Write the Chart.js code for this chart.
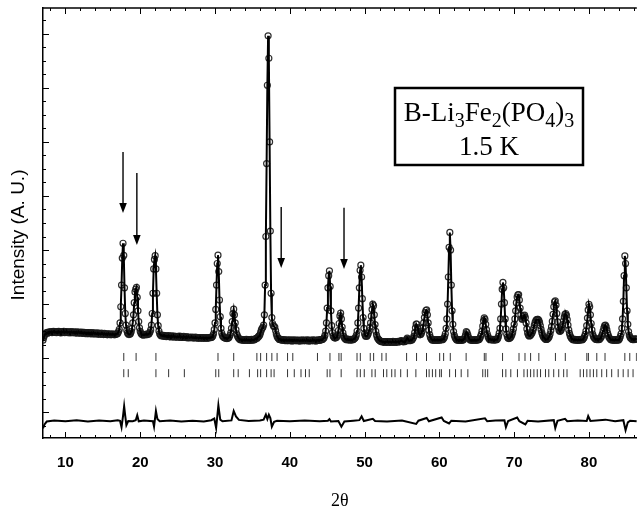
<!DOCTYPE html>
<html>
<head>
<meta charset="utf-8">
<script src="https://cdn.jsdelivr.net/npm/chart.js@4.4.1/dist/chart.umd.min.js"></script>
<style>
  html, body { margin: 0; padding: 0; background: #fff; }
  canvas { display: block; }
</style>
</head>
<body>
<canvas id="xrd" width="642" height="510"></canvas>
<script>
// observed / calculated profile, 2theta from 7.0 in 0.1 deg steps
const scanStart = 7.0;
const scanStep = 0.1;
const profile = [
  6.6, 7.6, 8.4, 8.9, 9.2, 9.4, 9.2, 9.6, 9.4, 9.7,        // 7
  9.5, 9.8, 9.4, 9.7, 9.9, 9.5, 9.8, 9.6, 9.4, 9.8,        // 8
  9.6, 9.9, 9.5, 9.7, 9.3, 9.8, 9.6, 9.5, 9.9, 9.4,        // 9
  9.7, 9.5, 9.8, 9.4, 9.6, 9.7, 9.3, 9.6, 9.8, 9.4,        // 10
  9.5, 9.7, 9.3, 9.6, 9.4, 9.7, 9.2, 9.5, 9.6, 9.3,        // 11
  9.5, 9.2, 9.6, 9.4, 9.1, 9.5, 9.3, 9.4, 9.0, 9.4,        // 12
  9.2, 9.4, 9.0, 9.3, 9.1, 9.4, 8.9, 9.2, 9.3, 9.0,        // 13
  9.2, 8.9, 9.1, 9.3, 8.8, 9.1, 9.0, 8.8, 9.2, 8.9,        // 14
  9.0, 8.7, 9.1, 8.9, 8.8, 9.0, 8.6, 8.9, 9.0, 8.7,        // 15
  8.9, 8.6, 8.8, 9.0, 8.7, 8.8, 8.6, 8.9, 8.8, 9.0,        // 16
  9.2, 9.8, 10.6, 13.0, 19.0, 27.0, 37.0, 42.5, 38.0, 26.0, // 17
  16.5, 12.2, 10.2, 9.3, 8.9, 8.7, 8.8, 9.1, 9.8, 11.0,    // 18
  13.0, 16.0, 20.5, 24.5, 25.5, 26.2, 22.5, 17.5, 13.5, 11.2, // 19
  9.9, 9.2, 8.8, 8.6, 8.5, 8.7, 8.6, 8.8, 8.6, 8.9,        // 20
  8.7, 8.8, 9.1, 9.6, 10.4, 12.2, 16.5, 24.0, 33.0, 36.5,  // 21
  37.9, 33.0, 24.0, 16.0, 12.0, 10.0, 9.0, 8.5, 8.3, 8.4,  // 22
  8.2, 8.4, 8.0, 8.3, 8.1, 7.9, 8.2, 8.0, 8.3, 7.9,        // 23
  8.1, 7.8, 8.2, 7.9, 8.0, 8.1, 7.7, 8.0, 7.9, 7.8,        // 24
  8.0, 7.7, 7.9, 8.1, 7.6, 7.9, 7.8, 7.6, 8.0, 7.7,        // 25
  7.8, 7.6, 7.9, 7.5, 7.7, 7.8, 7.5, 7.7, 7.6, 7.8,        // 26
  7.5, 7.7, 7.4, 7.6, 7.8, 7.4, 7.6, 7.5, 7.3, 7.6,        // 27
  7.4, 7.6, 7.3, 7.5, 7.6, 7.3, 7.5, 7.4, 7.6, 7.3,        // 28
  7.5, 7.4, 7.6, 7.5, 7.7, 7.6, 7.8, 8.2, 9.0, 10.5,       // 29
  13.0, 18.0, 27.0, 35.0, 38.1, 32.0, 21.5, 15.3, 11.0, 9.2, // 30
  8.3, 7.9, 7.6, 7.5, 7.3, 7.4, 7.2, 7.3, 7.4, 7.8,        // 31
  8.4, 9.3, 11.0, 13.5, 16.5, 18.1, 16.0, 13.0, 10.5, 9.0, // 32
  8.2, 7.6, 7.2, 7.0, 6.8, 6.9, 6.6, 6.8, 6.7, 6.5,        // 33
  6.8, 6.6, 6.9, 6.5, 6.7, 6.8, 6.5, 6.7, 6.6, 6.9,        // 34
  6.7, 6.6, 6.8, 6.9, 7.1, 7.3, 7.2, 7.6, 7.9, 8.2,        // 35
  8.6, 9.5, 10.4, 11.0, 11.4, 12.2, 16.0, 27.0, 45.0, 72.0, // 36
  101.0, 119.3, 111.0, 80.0, 47.0, 24.0, 15.0, 12.8, 12.0, 11.6, // 37
  11.5, 10.2, 8.9, 8.0, 7.5, 7.2, 6.9, 7.0, 6.7, 6.8,      // 38
  6.6, 6.8, 6.5, 6.7, 6.6, 6.4, 6.7, 6.5, 6.6, 6.4,        // 39
  6.7, 6.5, 6.6, 6.3, 6.6, 6.5, 6.7, 6.4, 6.5, 6.6,        // 40
  6.4, 6.6, 6.5, 6.3, 6.6, 6.4, 6.5, 6.7, 6.4, 6.5,        // 41
  6.6, 6.4, 6.5, 6.7, 6.4, 6.6, 6.3, 6.5, 6.6, 6.4,        // 42
  6.5, 6.7, 6.4, 6.6, 6.5, 6.3, 6.6, 6.5, 6.7, 6.5,        // 43
  6.6, 6.8, 6.7, 6.9, 7.0, 7.2, 7.6, 8.4, 10.0, 13.0,      // 44
  18.5, 26.0, 30.5, 32.3, 26.5, 17.5, 12.0, 9.4, 8.2, 7.7, // 45
  7.5, 7.4, 7.6, 7.9, 8.6, 10.2, 12.8, 15.6, 16.6, 14.5,   // 46
  11.5, 9.3, 8.1, 7.5, 7.1, 7.0, 6.8, 7.0, 6.7, 6.9,       // 47
  6.8, 6.6, 6.9, 6.7, 6.8, 6.9, 7.1, 7.3, 7.7, 8.5,        // 48
  10.0, 13.0, 18.5, 26.0, 32.5, 34.4, 30.0, 22.0, 15.0, 11.0, // 49
  9.0, 8.3, 8.0, 8.1, 8.5, 9.1, 10.1, 11.4, 13.0, 15.5,    // 50
  18.0, 20.0, 19.4, 16.0, 12.4, 9.9, 8.5, 7.6, 7.1, 6.8,   // 51
  6.5, 6.3, 6.1, 6.2, 5.9, 6.1, 6.0, 5.8, 6.1, 6.0,        // 52
  5.9, 6.1, 5.8, 6.0, 6.1, 5.9, 5.8, 6.0, 6.2, 5.9,        // 53
  6.0, 5.8, 6.1, 5.9, 6.0, 6.2, 5.9, 6.1, 6.3, 6.5,        // 54
  6.3, 6.1, 6.0, 6.2, 6.1, 6.4, 6.8, 7.4, 7.0, 6.6,        // 55
  6.4, 6.5, 6.7, 6.6, 7.0, 7.4, 8.1, 9.4, 11.2, 12.6,      // 56
  12.6, 11.3, 9.9, 9.0, 8.6, 8.7, 9.2, 10.0, 11.3, 13.0,   // 57
  15.0, 16.8, 17.6, 17.8, 16.0, 13.0, 10.3, 8.7, 7.7, 7.1, // 58
  6.8, 6.6, 6.7, 6.5, 6.8, 6.6, 6.7, 6.5, 6.8, 6.7,        // 59
  6.6, 6.8, 6.7, 6.9, 6.8, 7.0, 7.3, 7.9, 9.0, 11.0,       // 60
  14.5, 20.0, 30.0, 41.0, 46.5, 40.0, 27.0, 17.5, 12.5, 9.8, // 61
  8.4, 7.6, 7.1, 6.8, 6.6, 6.7, 6.5, 6.8, 6.6, 6.7,        // 62
  6.5, 6.8, 6.7, 7.1, 7.7, 8.6, 9.8, 9.4, 8.6, 7.7,        // 63
  7.1, 6.8, 6.6, 6.7, 6.5, 6.7, 6.6, 6.8, 6.5, 6.7,        // 64
  6.6, 6.8, 6.7, 6.9, 7.2, 7.9, 8.8, 10.0, 11.8, 13.8,     // 65
  14.9, 14.3, 12.5, 10.5, 9.0, 8.0, 7.3, 7.0, 6.8, 6.9,    // 66
  6.7, 6.9, 6.8, 6.6, 6.9, 6.7, 6.8, 6.9, 7.2, 8.0,        // 67
  9.2, 11.0, 14.5, 20.0, 25.5, 28.0, 26.0, 20.5, 14.5, 10.8, // 68
  8.8, 7.8, 7.3, 7.2, 7.3, 7.6, 8.0, 8.6, 9.5, 10.8,       // 69
  12.5, 14.5, 17.5, 20.5, 22.6, 23.4, 23.5, 21.5, 18.5, 16.0, // 70
  14.6, 14.3, 14.9, 15.6, 15.9, 15.0, 13.0, 10.8, 9.3, 8.5, // 71
  8.2, 8.3, 8.5, 8.9, 9.4, 10.1, 11.0, 12.2, 13.2, 13.9,   // 72
  14.2, 14.3, 14.3, 14.0, 13.2, 12.0, 10.6, 9.4, 8.5, 7.9, // 73
  7.5, 7.2, 7.0, 6.9, 7.0, 7.2, 7.5, 8.0, 8.9, 10.2,       // 74
  11.6, 13.6, 16.2, 19.0, 20.8, 21.2, 19.6, 16.5, 13.4, 11.4, // 75
  10.3, 9.9, 10.0, 10.5, 11.3, 12.4, 13.8, 15.2, 16.2, 16.5, // 76
  15.8, 14.2, 12.2, 10.4, 9.1, 8.2, 7.6, 7.2, 7.0, 6.8,    // 77
  6.7, 6.9, 6.6, 6.8, 6.7, 6.5, 6.8, 6.6, 6.7, 6.9,        // 78
  6.7, 6.8, 7.0, 7.3, 7.9, 8.8, 10.0, 12.0, 14.8, 17.8,    // 79
  19.9, 19.0, 16.0, 12.8, 10.4, 8.9, 8.0, 7.5, 7.2, 7.0,   // 80
  6.9, 7.1, 6.8, 7.0, 6.9, 7.2, 7.6, 8.2, 9.0, 10.1,       // 81
  11.2, 12.0, 12.2, 11.6, 10.4, 9.2, 8.3, 7.6, 7.2, 6.9,   // 82
  6.8, 6.6, 6.8, 6.7, 6.5, 6.7, 6.8, 6.6, 6.7, 6.6,        // 83
  6.8, 7.2, 8.0, 9.0, 11.0, 14.5, 21.0, 30.5, 37.8, 35.0,  // 84
  26.0, 17.5, 12.5, 9.8, 8.4, 7.7, 7.3, 7.1, 6.9, 7.0,     // 85
  6.8, 7.0, 6.9, 7.1, 7.0                                  // 86
];

// Bragg reflection markers (two phases)
const reflRow1 = [17.8, 19.45, 22.1, 30.4, 32.5, 35.6, 36.1, 36.9, 37.6, 38.3, 39.7, 40.4, 43.7,
  45.37, 46.57, 46.87, 48.99, 49.43, 50.76, 51.21, 52.31, 52.88, 55.62, 56.95, 58.28, 60.04, 60.57,
  61.46, 63.58, 66.01, 66.23, 68.45, 70.65, 71.45, 72.2, 73.3, 75.52, 76.84, 79.72, 79.93, 81.05,
  82.15, 84.8, 85.46, 86.35];
const reflRow2 = [17.8, 18.4, 22.1, 23.8, 25.9, 30.1, 30.5, 32.5, 33.1, 34.6, 35.7, 36.1, 36.9, 37.5,
  37.9, 39.7, 40.6, 41.5, 42.1, 42.6, 45.0, 45.37, 46.87, 48.99, 49.43, 49.96, 50.98, 51.42, 52.53,
  52.97, 53.63, 54.07, 54.83, 55.72, 56.86, 58.28, 58.63, 59.07, 59.51, 60.04, 60.27, 61.37, 62.16,
  62.92, 63.81, 65.8, 66.14, 66.46, 68.45, 68.89, 69.55, 70.44, 71.31, 71.76, 72.2, 72.64, 73.09,
  73.53, 74.19, 74.63, 75.29, 75.96, 76.62, 77.07, 78.83, 79.27, 79.72, 80.15, 80.6, 81.05, 81.71,
  82.37, 83.04, 83.91, 84.58, 85.24, 85.9];
const reflRow1Y = 0.4;
const reflRow2Y = -5.6;

// difference curve (obs - calc), offset
const diffX = [7.0, 7.2, 7.5, 8.5, 10, 11.5, 13, 14.5, 16, 17.0, 17.3, 17.5, 17.7, 17.85, 18.0, 18.15,
  18.4, 19.0, 19.4, 19.6, 19.8, 20.5, 21.7, 21.85, 22.1, 22.3, 22.6, 24, 25.5, 27, 28.5, 29.5, 29.9,
  30.15, 30.45, 30.7, 31.0, 32.2, 32.5, 32.8, 33.2, 34.5, 36, 36.5, 36.8, 37.0, 37.2, 37.4, 37.6,
  37.9, 38.3, 40, 42, 44, 45.1, 45.3, 45.5, 46.5, 46.9, 47.3, 48.5, 49.3, 49.6, 49.9, 51.1, 51.4,
  53, 55, 56.9, 57.2, 58.3, 58.6, 60.3, 60.6, 61.3, 61.6, 63.5, 66.1, 66.4, 67.5, 68.7, 68.9, 69.2,
  70.4, 70.7, 71.5, 71.8, 73.2, 75.3, 75.5, 75.8, 76.8, 77.1, 78.5, 79.7, 79.9, 80.2, 82.2, 83.5,
  84.6, 84.9, 85.2, 85.5, 86.4];
const diffY = [-26.0, -24.6, -23.5, -23.1, -23.4, -23.0, -23.5, -23.1, -23.4, -23.0, -23.2, -25.6,
  -21.5, -17.8, -21.5, -24.8, -23.3, -23.4, -23.0, -21.2, -23.4, -23.1, -23.4, -25.4, -19.6, -22.6,
  -23.4, -23.1, -23.5, -23.2, -23.5, -23.0, -22.4, -25.9, -17.5, -22.8, -23.4, -23.1, -19.6, -21.6,
  -22.9, -23.3, -23.1, -22.8, -20.9, -22.6, -21.0, -22.2, -25.4, -23.6, -23.2, -23.4, -23.1, -23.4,
  -23.2, -22.6, -23.5, -23.3, -25.4, -23.5, -23.2, -23.0, -21.6, -23.3, -22.5, -23.3, -23.5, -23.1,
  -24.4, -23.2, -22.2, -23.4, -22.0, -23.3, -24.2, -23.2, -23.5, -22.3, -23.4, -23.1, -23.0, -25.6,
  -23.3, -22.0, -23.4, -24.6, -23.2, -23.5, -23.0, -25.9, -23.2, -22.5, -23.4, -23.1, -23.3, -21.5,
  -23.3, -22.8, -23.4, -23.0, -26.7, -23.8, -23.2, -23.4];

// arrows marking magnetic peaks
const arrowX = [17.7, 19.55, 38.85, 47.25];
const arrowFrom = [76.3, 68.5, 55.9, 55.6];
const arrowTo = [53.7, 41.9, 33.3, 33.0];

const xTickLabels = [10, 20, 30, 40, 50, 60, 70, 80];

const profilePts = profile.map((v, i) => ({ x: +(scanStart + i * scanStep).toFixed(1), y: v }));
const diffPts = diffX.map((x, i) => ({ x: x, y: diffY[i] }));

const framePlugin = {
  id: 'frame',
  afterDraw(chart) {
    const { ctx, chartArea: a, scales: { x, y } } = chart;
    ctx.save();
    ctx.strokeStyle = '#000';
    // top border
    ctx.lineWidth = 1.5;
    ctx.beginPath();
    ctx.moveTo(a.left, a.top);
    ctx.lineTo(a.right, a.top);
    ctx.stroke();

    // inward tick marks
    ctx.lineWidth = 1;
    ctx.beginPath();
    for (let v = 8; v <= 86; v += 2) {
      const px = Math.round(x.getPixelForValue(v)) + 0.5;
      const len = v % 10 === 0 ? 6 : 3;
      ctx.moveTo(px, a.bottom);
      ctx.lineTo(px, a.bottom - len);
      ctx.moveTo(px, a.top);
      ctx.lineTo(px, a.top + len);
    }
    for (let v = -25; v <= 125; v += 5) {
      const py = Math.round(y.getPixelForValue(v)) + 0.5;
      const len = v % 20 === 0 ? 6 : 3;
      ctx.moveTo(a.left, py);
      ctx.lineTo(a.left + len, py);
    }
    ctx.stroke();

    // arrows
    ctx.fillStyle = '#000';
    ctx.lineWidth = 1.4;
    arrowX.forEach((ax, i) => {
      const px = x.getPixelForValue(ax);
      const y0 = y.getPixelForValue(arrowFrom[i]);
      const y1 = y.getPixelForValue(arrowTo[i]);
      ctx.beginPath();
      ctx.moveTo(px, y0);
      ctx.lineTo(px, y1 - 9);
      ctx.stroke();
      ctx.beginPath();
      ctx.moveTo(px - 3.8, y1 - 10);
      ctx.lineTo(px + 3.8, y1 - 10);
      ctx.lineTo(px, y1);
      ctx.closePath();
      ctx.fill();
    });

    // sample label box
    ctx.lineWidth = 2.5;
    ctx.strokeRect(395, 88, 188, 77);
    const parts = [['B-Li', false], ['3', true], ['Fe', false], ['2', true], ['(PO', false], ['4', true], [')', false], ['3', true]];
    const big = '27px "Liberation Serif", "Times New Roman", serif';
    const small = '20px "Liberation Serif", "Times New Roman", serif';
    let total = 0;
    parts.forEach(p => { ctx.font = p[1] ? small : big; total += ctx.measureText(p[0]).width; });
    let cx = 489 - total / 2;
    ctx.textBaseline = 'alphabetic';
    ctx.textAlign = 'left';
    parts.forEach(p => {
      ctx.font = p[1] ? small : big;
      ctx.fillText(p[0], cx, p[1] ? 127 : 121);
      cx += ctx.measureText(p[0]).width;
    });
    ctx.font = big;
    ctx.textAlign = 'center';
    ctx.fillText('1.5 K', 489, 155);

    // y axis title
    ctx.translate(18.5, 235);
    ctx.rotate(-Math.PI / 2);
    ctx.font = '19px "Liberation Sans", Arial, sans-serif';
    ctx.textBaseline = 'middle';
    ctx.fillText('Intensity (A. U.)', 0, 0);
    ctx.restore();
  }
};

const ctx = document.getElementById('xrd').getContext('2d');
const chart = new Chart(ctx, {
  type: 'line',
  data: {
    datasets: [
      {
        label: 'calc',
        data: profilePts,
        borderColor: '#000',
        borderWidth: 2,
        pointRadius: 0,
        tension: 0
      },
      {
        label: 'obs',
        data: profilePts,
        showLine: false,
        pointStyle: 'circle',
        pointRadius: 3,
        pointBorderWidth: 1.2,
        pointBorderColor: 'rgba(25,25,25,0.9)',
        pointBackgroundColor: 'rgba(0,0,0,0)'
      },
      {
        label: 'phase 1',
        data: reflRow1.map(v => ({ x: v, y: reflRow1Y })),
        showLine: false,
        pointStyle: 'line',
        rotation: 90,
        pointRadius: 4,
        pointBorderWidth: 1,
        pointBorderColor: '#333'
      },
      {
        label: 'phase 2',
        data: reflRow2.map(v => ({ x: v, y: reflRow2Y })),
        showLine: false,
        pointStyle: 'line',
        rotation: 90,
        pointRadius: 4,
        pointBorderWidth: 1,
        pointBorderColor: '#333'
      },
      {
        label: 'diff',
        data: diffPts,
        borderColor: '#000',
        borderWidth: 2,
        pointRadius: 0,
        tension: 0
      }
    ]
  },
  options: {
    responsive: false,
    animation: false,
    layout: { padding: { top: 8, right: 0, bottom: 0, left: 0 } },
    plugins: {
      legend: { display: false },
      tooltip: { enabled: false }
    },
    scales: {
      x: {
        type: 'linear',
        min: 7,
        max: 86.4,
        afterBuildTicks: s => { s.ticks = xTickLabels.map(v => ({ value: v })); },
        afterFit: s => { s.height = 72; },
        grid: { display: true, drawOnChartArea: false, drawTicks: false },
        border: { display: true, color: '#000', width: 1.5 },
        ticks: {
          color: '#000',
          padding: 16,
          maxRotation: 0,
          font: { family: '"Liberation Sans", Arial, sans-serif', size: 15, weight: 'bold' }
        },
        title: {
          display: true,
          text: '2θ',
          color: '#000',
          padding: { top: 0, bottom: -2 },
          font: { family: '"Liberation Serif", "Times New Roman", serif', size: 18 }
        }
      },
      y: {
        min: -29.6,
        max: 129.6,
        afterFit: s => { s.width = 43; },
        grid: { display: true, drawOnChartArea: false, drawTicks: false },
        border: { display: true, color: '#000', width: 1.5 },
        ticks: { display: false }
      }
    }
  },
  plugins: [framePlugin]
});
</script>
</body>
</html>
